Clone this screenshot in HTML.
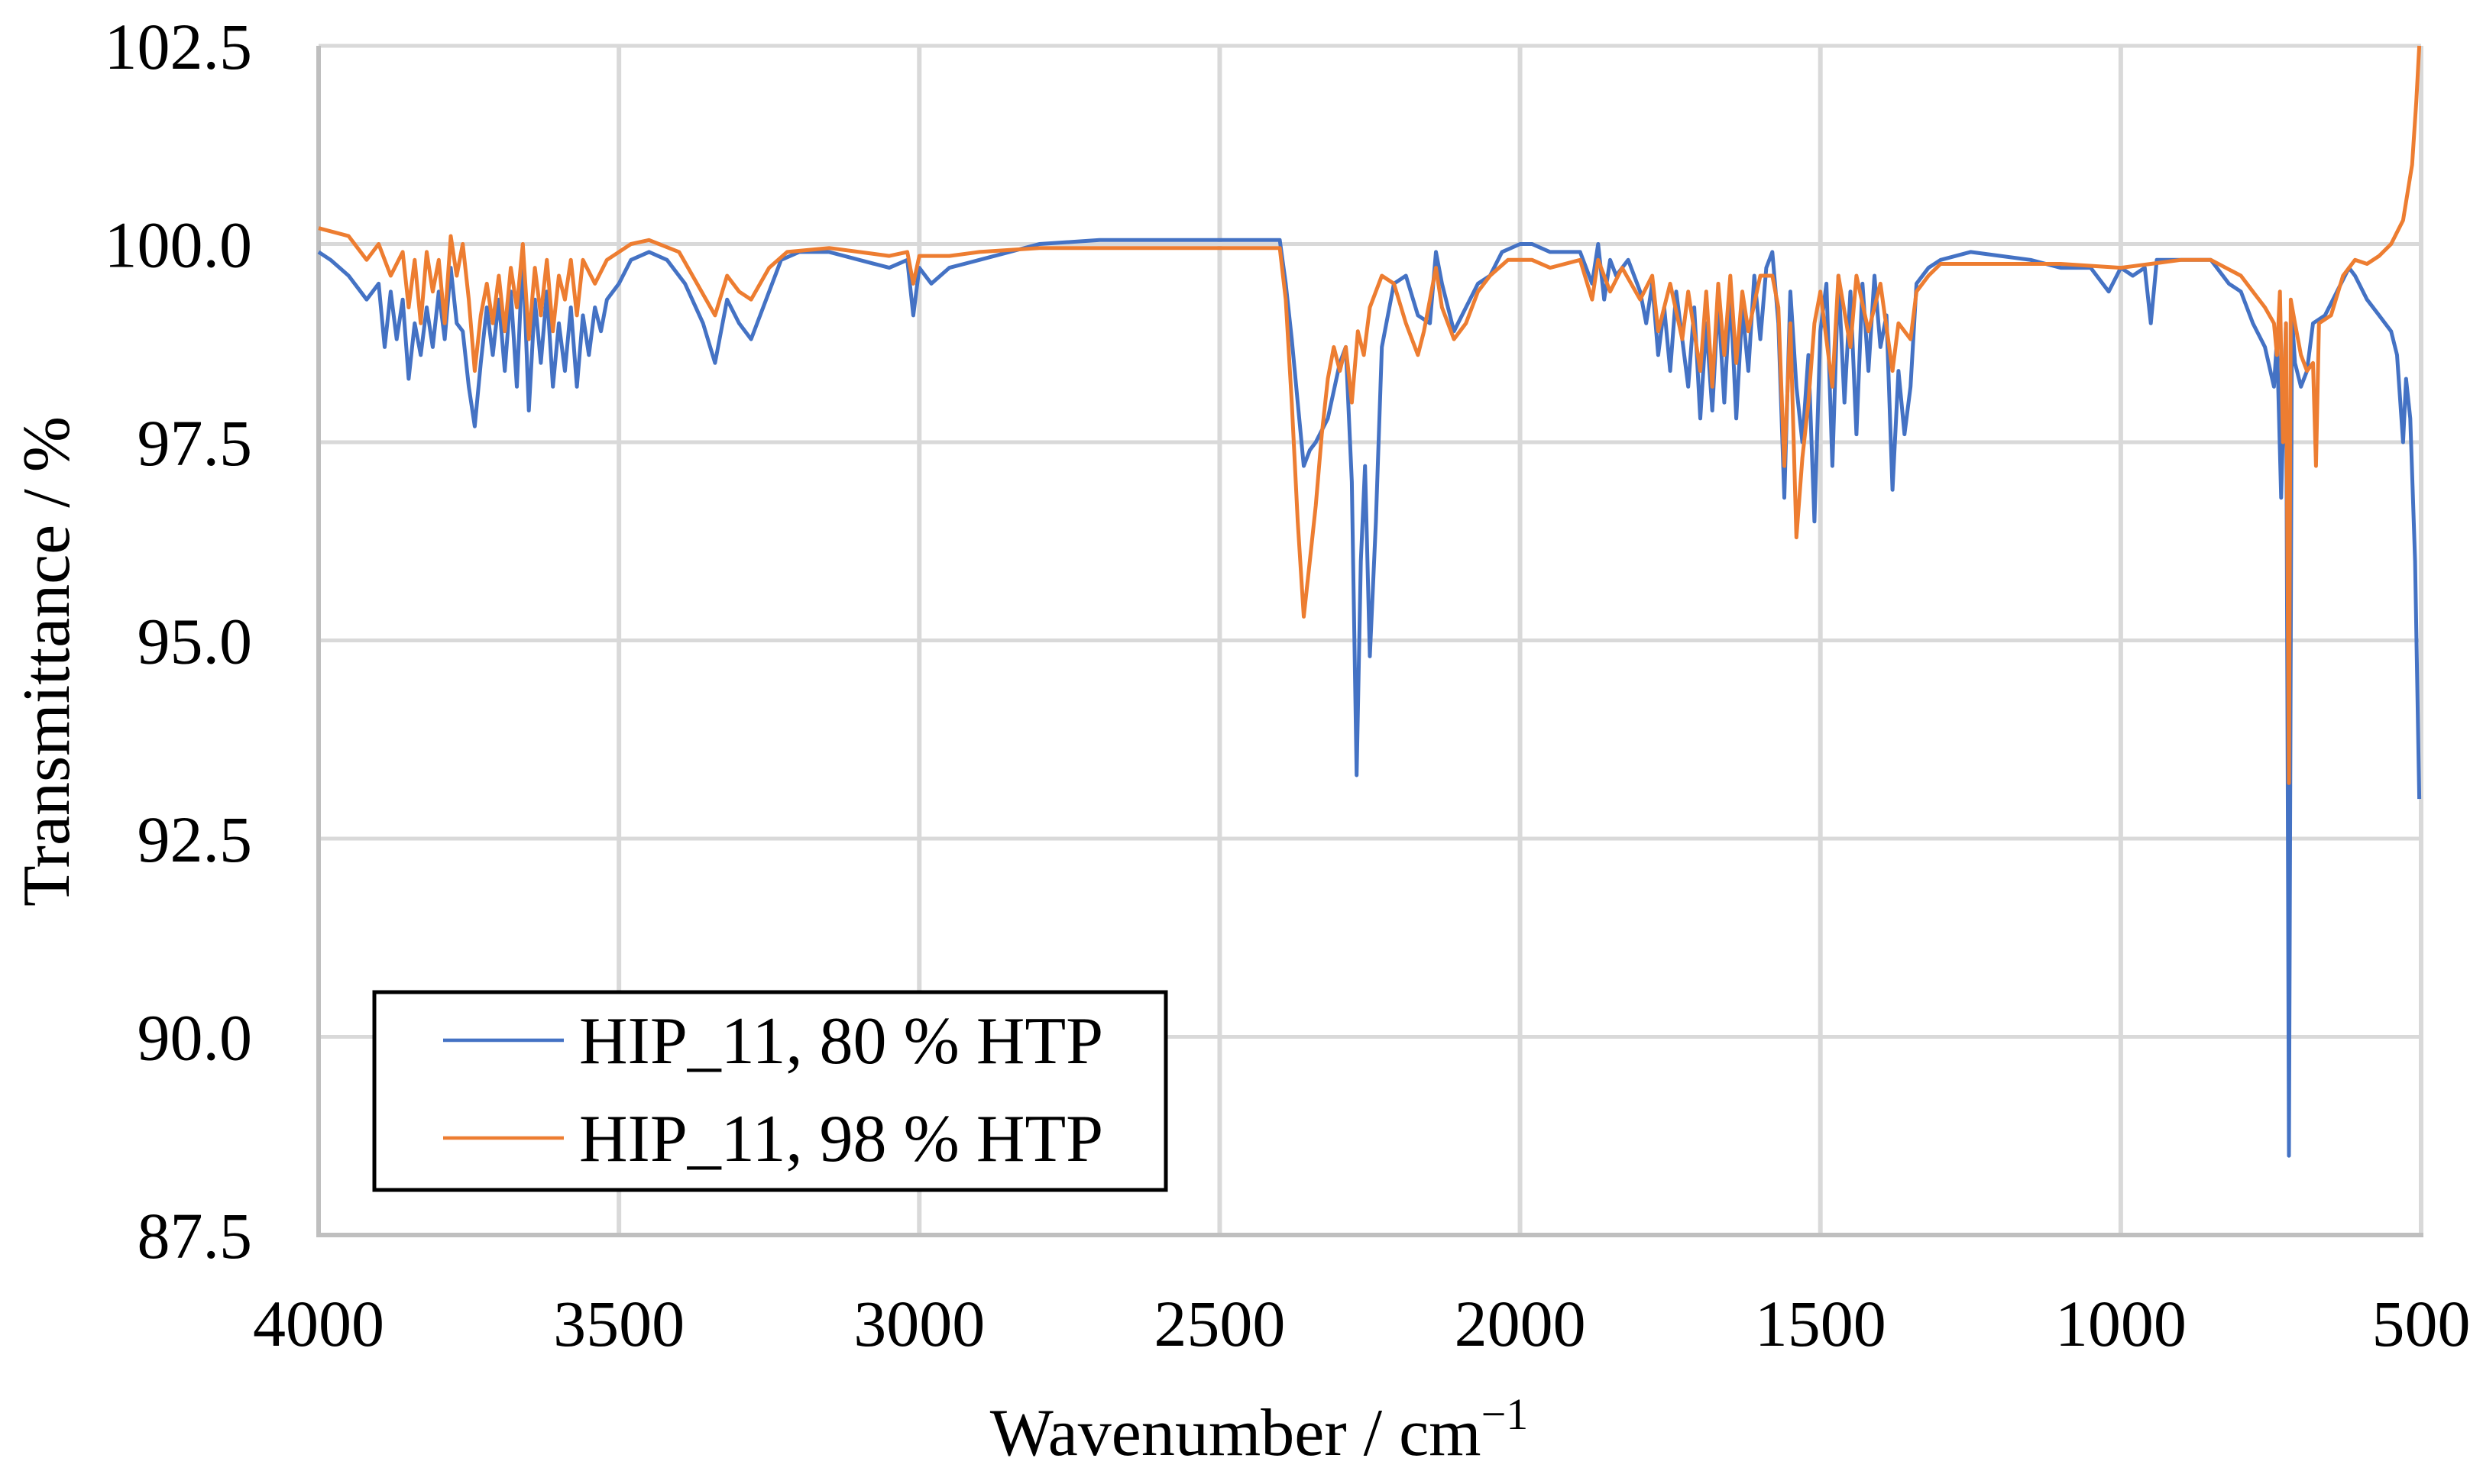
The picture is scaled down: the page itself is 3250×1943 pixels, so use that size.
<!DOCTYPE html>
<html><head><meta charset="utf-8"><style>
html,body{margin:0;padding:0;background:#fff;}
svg{display:block;font-family:"Liberation Serif",serif;}
</style></head><body>
<svg id="chart" width="3250" height="1943" viewBox="0 0 3250 1943" xmlns="http://www.w3.org/2000/svg">
<g id="grid"></g>
<g id="axes"></g>
<g id="series"></g>
<text x="0" y="0" transform="translate(90,866) rotate(-90)" text-anchor="middle" font-size="88" fill="#000">Transmittance / %</text>
<text x="1648" y="1905" text-anchor="middle" font-size="88" fill="#000">Wavenumber / cm<tspan font-size="58" dy="-34">−1</tspan></text>
<g>
<rect x="490" y="1299" width="1036" height="259" fill="#fff" stroke="#000" stroke-width="5"/>
<line x1="580" y1="1362" x2="738" y2="1362" stroke="#4472C4" stroke-width="4.5"/>
<text x="758" y="1392" font-size="88">HIP_11, 80 % HTP</text>
<line x1="580" y1="1490" x2="738" y2="1490" stroke="#ED7D31" stroke-width="4.5"/>
<text x="758" y="1520" font-size="88">HIP_11, 98 % HTP</text>
</g>
</svg>
<script>
const xTicks = [4000,3500,3000,2500,2000,1500,1000,500];
const yTicks = [87.5,90.0,92.5,95.0,97.5,100.0,102.5];
const wn80 = [4000,3980,3950,3920,3900,3890,3880,3870,3860,3850,3840,3830,3820,3810,3800,3790,3780,3770,3760,3750,3740,3730,3720,3710,3700,3690,3680,3670,3660,3650,3640,3630,3620,3610,3600,3590,3580,3570,3560,3550,3540,3530,3520,3500,3480,3450,3420,3390,3360,3340,3320,3300,3280,3260,3230,3200,3150,3100,3050,3020,3010,3000,2980,2950,2900,2850,2800,2700,2600,2500,2400,2390,2380,2370,2360,2350,2340,2320,2300,2290,2280,2272,2265,2258,2250,2240,2230,2210,2190,2170,2150,2140,2130,2110,2090,2070,2050,2030,2000,1980,1950,1900,1880,1870,1860,1850,1840,1820,1800,1790,1780,1770,1760,1750,1740,1730,1720,1710,1700,1690,1680,1670,1660,1650,1640,1630,1620,1610,1600,1590,1580,1570,1560,1550,1540,1530,1520,1510,1500,1490,1480,1470,1460,1450,1440,1430,1420,1410,1400,1390,1380,1370,1360,1350,1340,1320,1300,1250,1200,1150,1100,1050,1020,1000,980,960,950,940,900,850,820,800,780,760,745,740,733,725,722,720,715,710,700,690,680,660,640,620,610,590,570,550,540,530,525,518,510,503];
const t80 = [99.9,99.8,99.6,99.3,99.5,98.7,99.4,98.8,99.3,98.3,99.0,98.6,99.2,98.7,99.4,98.8,99.7,99.0,98.9,98.2,97.7,98.5,99.2,98.6,99.3,98.4,99.4,98.2,99.9,97.9,99.3,98.5,99.4,98.2,99.0,98.4,99.2,98.2,99.1,98.6,99.2,98.9,99.3,99.5,99.8,99.9,99.8,99.5,99.0,98.5,99.3,99.0,98.8,99.2,99.8,99.9,99.9,99.8,99.7,99.8,99.1,99.7,99.5,99.7,99.8,99.9,100.0,100.05,100.05,100.05,100.05,99.5,98.8,98.0,97.2,97.4,97.5,97.8,98.5,98.7,97.0,93.3,96.0,97.2,94.8,96.5,98.7,99.5,99.6,99.1,99.0,99.9,99.5,98.9,99.2,99.5,99.6,99.9,100.0,100.0,99.9,99.9,99.5,100.0,99.3,99.8,99.6,99.8,99.4,99.0,99.5,98.6,99.2,98.4,99.4,98.8,98.2,99.2,97.8,99.0,97.9,99.3,98.0,99.4,97.8,99.2,98.4,99.6,98.8,99.7,99.9,99.0,96.8,99.4,98.2,97.5,98.6,96.5,98.9,99.5,97.2,99.6,98.0,99.4,97.6,99.5,98.4,99.6,98.7,99.1,96.9,98.4,97.6,98.2,99.5,99.7,99.8,99.9,99.85,99.8,99.7,99.7,99.4,99.7,99.6,99.7,99.0,99.8,99.8,99.8,99.5,99.4,99.0,98.7,98.2,98.8,96.8,99.0,93.2,88.5,99.1,98.5,98.2,98.4,99.0,99.1,99.4,99.7,99.6,99.3,99.1,98.9,98.6,97.5,98.3,97.8,96.0,93.0];
const wn98 = [4000,3950,3920,3900,3880,3860,3850,3840,3830,3820,3810,3800,3790,3780,3770,3760,3750,3740,3730,3720,3710,3700,3690,3680,3670,3660,3650,3640,3630,3620,3610,3600,3590,3580,3570,3560,3540,3520,3500,3480,3450,3400,3370,3340,3320,3300,3280,3250,3220,3150,3100,3050,3020,3010,3000,2950,2900,2800,2700,2600,2500,2400,2390,2380,2370,2360,2350,2340,2330,2320,2310,2300,2290,2280,2270,2260,2250,2230,2210,2190,2170,2160,2140,2130,2110,2090,2070,2050,2020,1980,1950,1900,1880,1870,1850,1830,1800,1780,1770,1750,1730,1720,1700,1690,1680,1670,1660,1650,1640,1630,1620,1600,1580,1570,1560,1550,1540,1530,1520,1510,1500,1480,1470,1450,1440,1420,1400,1380,1370,1350,1340,1320,1300,1200,1100,1000,950,900,850,800,780,760,745,740,735,730,725,720,717,710,700,690,680,675,670,650,630,610,590,570,550,530,515,508,503];
const t98 = [100.2,100.1,99.8,100.0,99.6,99.9,99.2,99.8,99.0,99.9,99.4,99.8,99.0,100.1,99.6,100.0,99.3,98.4,99.1,99.5,99.0,99.6,98.9,99.7,99.2,100.0,98.8,99.7,99.1,99.8,98.9,99.6,99.3,99.8,99.1,99.8,99.5,99.8,99.9,100.0,100.05,99.9,99.5,99.1,99.6,99.4,99.3,99.7,99.9,99.95,99.9,99.85,99.9,99.5,99.85,99.85,99.9,99.95,99.95,99.95,99.95,99.95,99.3,98.0,96.5,95.3,96.0,96.7,97.6,98.3,98.7,98.4,98.7,98.0,98.9,98.6,99.2,99.6,99.5,99.0,98.6,98.9,99.7,99.2,98.8,99.0,99.4,99.6,99.8,99.8,99.7,99.8,99.3,99.8,99.4,99.7,99.3,99.6,98.9,99.5,98.8,99.4,98.4,99.4,98.2,99.5,98.6,99.6,98.5,99.4,98.9,99.6,99.6,99.2,97.2,99.0,96.3,97.3,98.0,99.0,99.4,98.2,99.6,98.7,99.6,98.9,99.5,98.4,99.0,98.8,99.4,99.6,99.75,99.75,99.75,99.7,99.75,99.8,99.8,99.6,99.4,99.2,99.0,98.6,99.4,97.5,99.0,93.2,99.3,99.0,98.6,98.4,98.5,97.2,99.0,99.1,99.6,99.8,99.75,99.85,100.0,100.3,101.0,101.8,102.5];

const X0=417, X1=3169, Y0=60, Y1=1617;
function xs(w){return X0+(4000-w)/3500*(X1-X0);}
function ys(t){return Y1-(t-87.5)/15*(Y1-Y0);}
const NS='http://www.w3.org/2000/svg';
const grid=document.getElementById('grid'), axes=document.getElementById('axes'), ser=document.getElementById('series');
function mk(tag,attrs,parent){const e=document.createElementNS(NS,tag);for(const k in attrs)e.setAttribute(k,attrs[k]);parent.appendChild(e);return e;}
yTicks.forEach(v=>{
  const y=ys(v);
  if(v>87.5){const l=mk('line',{x1:X0,x2:X1,y1:y,y2:y,stroke:'#d9d9d9','stroke-width':5},grid);
  
  }
  const t=mk('text',{x:330,y:y+30,'text-anchor':'end','font-size':86,fill:'#000'},axes);
  
  
  t.textContent=v.toFixed(1);
});
xTicks.forEach(v=>{
  const x=xs(v);
  if(v<4000){const l=mk('line',{x1:x,x2:x,y1:Y0,y2:Y1,stroke:'#d9d9d9','stroke-width':6},grid);
  
  }
  const t=mk('text',{x:x,y:1762,'text-anchor':'middle','font-size':86,fill:'#000'},axes);
  
  
  t.textContent=v;
});
const ax1=mk('line',{x1:X0,x2:X0,y1:Y0,y2:Y1+3,stroke:'#bfbfbf','stroke-width':6},axes);


const ax2=mk('line',{x1:X0-3,x2:X1+3,y1:Y1,y2:Y1,stroke:'#bfbfbf','stroke-width':6},axes);


function path(w,t){return w.map((v,i)=>(i?'L':'M')+xs(v).toFixed(1)+' '+ys(t[i]).toFixed(1)).join(' ');}
const p1=mk('path',{d:path(wn80,t80),fill:'none',stroke:'#4472C4','stroke-width':5,'stroke-linejoin':'round'},ser);


const p2=mk('path',{d:path(wn98,t98),fill:'none',stroke:'#ED7D31','stroke-width':5,'stroke-linejoin':'round'},ser);


</script>
</body></html>
